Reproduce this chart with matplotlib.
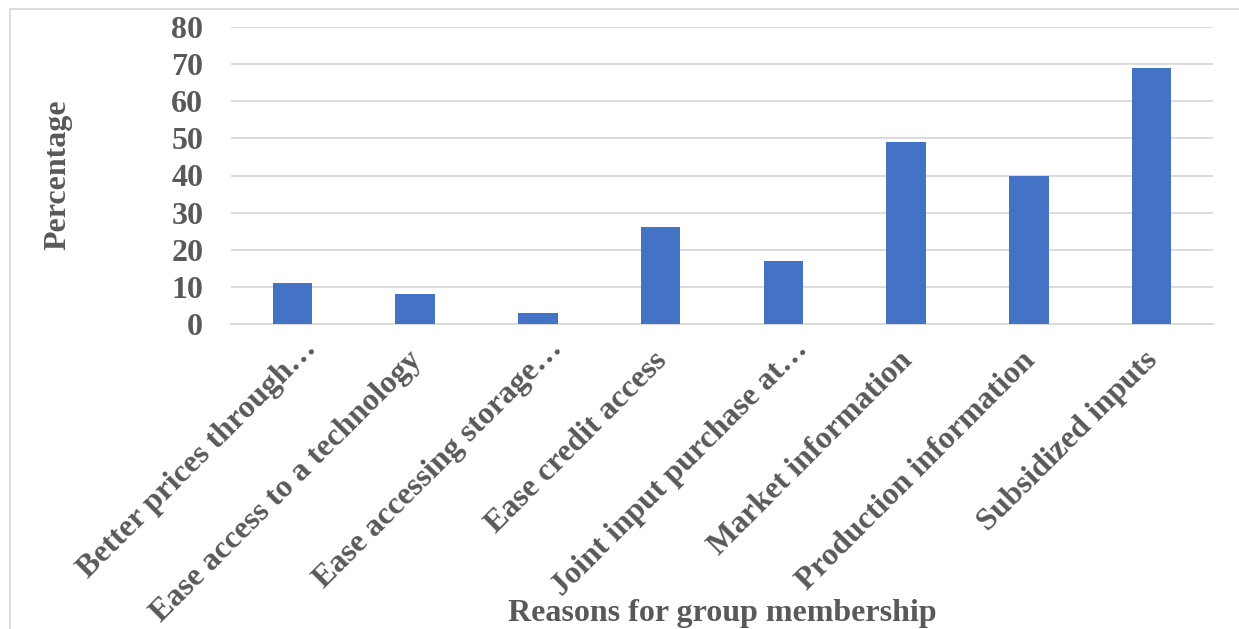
import matplotlib
matplotlib.use("Agg")
import matplotlib.pyplot as plt
import matplotlib.patches as patches
import matplotlib.transforms as mtransforms
import numpy as np

categories = [
    "Better prices through\u2026",
    "Ease access to a technology",
    "Ease accessing storage\u2026",
    "Ease credit access",
    "Joint input purchase at\u2026",
    "Market information",
    "Production information",
    "Subsidized inputs",
]
percentages = [11, 8, 3, 26, 17, 49, 40, 69]
y_ticks = [0, 10, 20, 30, 40, 50, 60, 70, 80]

text_color = "#595959"
grid_color = "#D9D9D9"
bar_color = "#4472C4"

plt.rcParams['font.family'] = ['Liberation Serif', 'DejaVu Serif']
plt.rcParams['font.weight'] = 'bold'

W, H = 1239, 629
fig = plt.figure(figsize=(W / 100, H / 100), dpi=100)
ax = fig.add_axes([231 / W, 1 - 324 / H, (1213 - 231) / W, (324 - 27) / H])

x = np.arange(len(categories))
ax.bar(x, percentages, width=0.32, color=bar_color, zorder=3)

ax.set_xlim(-0.5, len(categories) - 0.5)
ax.set_ylim(0, 80)
ax.set_yticks(y_ticks)
ax.set_yticklabels([str(v) for v in y_ticks], fontsize=23, fontweight='bold', color=text_color)
ax.set_xticks(x)
ax.set_xticklabels(categories, rotation=45, ha='right', rotation_mode='anchor',
                   fontsize=23, fontweight='bold', color=text_color)
ax.tick_params(axis='y', length=0, pad=20)
ax.tick_params(axis='x', length=0, pad=16)

# nudge rotated labels; truncated ones sit further along their line
for lbl in ax.get_xticklabels():
    if lbl.get_text().endswith("\u2026"):
        dx, dy = 10, 12
    else:
        dx, dy = -8, 0
    off = mtransforms.ScaledTranslation(dx / 100, dy / 100, fig.dpi_scale_trans)
    lbl.set_transform(lbl.get_transform() + off)

ax.grid(axis='y', color=grid_color, linewidth=1.3, zorder=0)
for s in ['top', 'right', 'left']:
    ax.spines[s].set_visible(False)
ax.spines['bottom'].set_color(grid_color)
ax.spines['bottom'].set_linewidth(1.3)

fig.text(58 / W, 1 - 175 / H, "Percentage", rotation=90, ha='center', va='center',
         fontsize=23, fontweight='bold', color=text_color)
fig.text(722 / W, 1 - 614 / H, "Reasons for group membership", ha='center', va='center',
         fontsize=23, fontweight='bold', color=text_color)

# chart frame
fig.patches.append(patches.Rectangle((10 / W, -0.1), 1.2, 1.1 - 9 / H,
                                     transform=fig.transFigure, fill=False,
                                     edgecolor=grid_color, linewidth=1.3))

fig.savefig("out.png", dpi=100)
